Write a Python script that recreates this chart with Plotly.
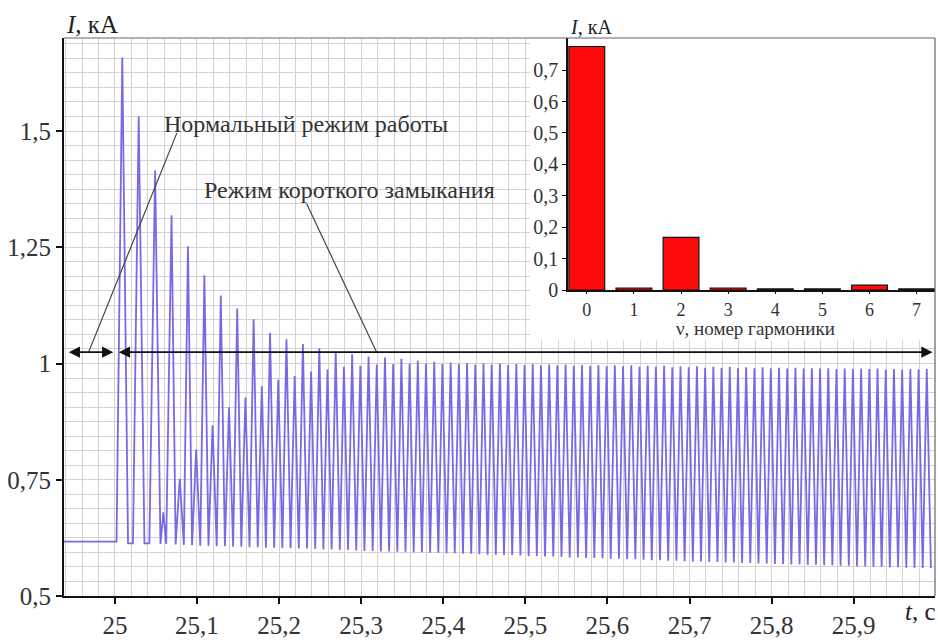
import plotly.graph_objects as go

# ---------------- data ----------------
# steady pre-fault level (normal mode)
pre_t = [24.938, 25.002]
pre_i = [0.617, 0.617]

# main (decaying) peaks of the current, kA
main_peak_t = [25.009, 25.029, 25.049, 25.069, 25.089, 25.109, 25.129, 25.149, 25.169, 25.189,
               25.209, 25.229, 25.249, 25.269, 25.289, 25.309, 25.329, 25.349, 25.369, 25.389,
               25.409, 25.429, 25.449, 25.469, 25.489, 25.509, 25.529, 25.549, 25.569, 25.589,
               25.609, 25.629, 25.649, 25.669, 25.689, 25.709, 25.729, 25.749, 25.769, 25.789,
               25.809, 25.829, 25.849, 25.869, 25.889, 25.909, 25.929, 25.949, 25.969, 25.989]
main_peak_i = [1.658, 1.531, 1.415, 1.319, 1.252, 1.190, 1.146, 1.118, 1.095, 1.066,
               1.052, 1.042, 1.033, 1.024, 1.020, 1.015, 1.013, 1.010, 1.006, 1.004,
               1.002, 1.001, 1.000, 1.000, 0.999, 0.999, 0.998, 0.998, 0.997, 0.997,
               0.996, 0.996, 0.995, 0.995, 0.994, 0.994, 0.993, 0.993, 0.992, 0.992,
               0.991, 0.991, 0.990, 0.990, 0.989, 0.989, 0.989, 0.988, 0.988, 0.988]

# secondary (growing) peaks
sec_peak_t = [25.059, 25.079, 25.099, 25.119, 25.139, 25.159, 25.179, 25.199, 25.219, 25.239,
              25.259, 25.279, 25.299, 25.319, 25.339, 25.359, 25.379, 25.399, 25.419, 25.439,
              25.459, 25.479, 25.499, 25.519, 25.539, 25.559, 25.579, 25.599, 25.619, 25.639,
              25.659, 25.679, 25.699, 25.719, 25.739, 25.759, 25.779, 25.799, 25.819, 25.839,
              25.859, 25.879, 25.899, 25.919, 25.939, 25.959, 25.979]
sec_peak_i = [0.680, 0.752, 0.815, 0.867, 0.906, 0.927, 0.951, 0.965, 0.973, 0.983,
              0.987, 0.993, 0.995, 0.998, 0.999, 1.000, 1.000, 0.999, 0.999, 0.998,
              0.998, 0.997, 0.997, 0.996, 0.996, 0.995, 0.995, 0.994, 0.994, 0.993,
              0.993, 0.992, 0.992, 0.991, 0.991, 0.990, 0.990, 0.990, 0.989, 0.989,
              0.989, 0.988, 0.988, 0.988, 0.987, 0.987, 0.987]

# troughs between the peaks
trough_t = [25.016, 25.022, 25.036, 25.042, 25.0555, 25.0625, 25.074, 25.084, 25.094,
            25.104, 25.114, 25.124, 25.134, 25.144, 25.154, 25.164, 25.174, 25.184, 25.194,
            25.204, 25.214, 25.224, 25.234, 25.244, 25.254, 25.264, 25.274, 25.284, 25.294,
            25.304, 25.314, 25.324, 25.334, 25.344, 25.354, 25.364, 25.374, 25.384, 25.394,
            25.404, 25.414, 25.424, 25.434, 25.444, 25.454, 25.464, 25.474, 25.484, 25.494,
            25.504, 25.514, 25.524, 25.534, 25.544, 25.554, 25.564, 25.574, 25.584, 25.594,
            25.604, 25.614, 25.624, 25.634, 25.644, 25.654, 25.664, 25.674, 25.684, 25.694,
            25.704, 25.714, 25.724, 25.734, 25.744, 25.754, 25.764, 25.774, 25.784, 25.794,
            25.804, 25.814, 25.824, 25.834, 25.844, 25.854, 25.864, 25.874, 25.884, 25.894,
            25.904, 25.914, 25.924, 25.934, 25.944, 25.954, 25.964, 25.974, 25.984, 25.994]
trough_i = [0.613, 0.613, 0.613, 0.613, 0.612, 0.612, 0.611, 0.610, 0.609,
            0.608, 0.608, 0.607, 0.607, 0.606, 0.606, 0.605, 0.605, 0.604, 0.604,
            0.603, 0.603, 0.602, 0.602, 0.601, 0.600, 0.600, 0.599, 0.599, 0.598,
            0.597, 0.597, 0.596, 0.596, 0.595, 0.595, 0.594, 0.594, 0.593, 0.593,
            0.592, 0.592, 0.591, 0.591, 0.590, 0.589, 0.589, 0.588, 0.588, 0.587,
            0.586, 0.586, 0.585, 0.585, 0.584, 0.583, 0.583, 0.582, 0.582, 0.581,
            0.580, 0.580, 0.579, 0.579, 0.578, 0.577, 0.577, 0.576, 0.576, 0.575,
            0.574, 0.574, 0.573, 0.573, 0.572, 0.572, 0.571, 0.571, 0.570, 0.570,
            0.569, 0.569, 0.568, 0.568, 0.567, 0.567, 0.566, 0.566, 0.565, 0.565,
            0.564, 0.564, 0.563, 0.563, 0.562, 0.562, 0.561, 0.561, 0.560, 0.560]

# harmonic spectrum (inset)
harm_n = [0, 1, 2, 3, 4, 5, 6, 7]
harm_i = [0.775, 0.007, 0.168, 0.007, 0.004, 0.004, 0.016, 0.004]

x_ticks = [25, 25.1, 25.2, 25.3, 25.4, 25.5, 25.6, 25.7, 25.8, 25.9]
x_ticktext = ["25", "25,1", "25,2", "25,3", "25,4", "25,5", "25,6", "25,7", "25,8", "25,9"]
y_ticks = [0.5, 0.75, 1, 1.25, 1.5]
y_ticktext = ["0,5", "0,75", "1", "1,25", "1,5"]
h_yticks = [0, 0.1, 0.2, 0.3, 0.4, 0.5, 0.6, 0.7]
h_yticktext = ["0", "0,1", "0,2", "0,3", "0,4", "0,5", "0,6", "0,7"]

# ---------------- build ----------------
pts = sorted(zip(pre_t + main_peak_t + sec_peak_t + trough_t,
                 pre_i + main_peak_i + sec_peak_i + trough_i))
wave_t = [p[0] for p in pts]
wave_i = [p[1] for p in pts]

FONT = "Liberation Serif"
GRID = "#d2d2d2"

fig = go.Figure()
fig.add_trace(go.Scatter(x=wave_t, y=wave_i, mode="lines",
                         line=dict(color="rgb(118,106,230)", width=1.8),
                         showlegend=False, hoverinfo="skip"))
fig.add_trace(go.Bar(x=harm_n, y=harm_i, xaxis="x2", yaxis="y2", width=0.76,
                     marker=dict(color="#ff0a0a", line=dict(color="#111", width=1.2)),
                     showlegend=False, hoverinfo="skip"))

fig.update_layout(
    width=938, height=642,
    margin=dict(l=64, r=3, t=38, b=37),
    paper_bgcolor="white", plot_bgcolor="white",
    font=dict(family=FONT, color="#222"),
    xaxis=dict(domain=[0, 1], range=[24.938, 25.999], tickvals=x_ticks, ticktext=x_ticktext,
               tickfont=dict(size=25, family=FONT, color="#333"),
               showline=True, linecolor="#111", linewidth=2,
               ticks="outside", ticklen=6, tickwidth=2, tickcolor="#111",
               showgrid=True, gridcolor=GRID, gridwidth=1, zeroline=False,
               minor=dict(tickmode="linear", tick0=25, dtick=0.02, showgrid=True,
                          gridcolor=GRID, gridwidth=1, ticks="")),
    yaxis=dict(domain=[0, 1], range=[0.5, 1.7], tickvals=y_ticks, ticktext=y_ticktext,
               tickfont=dict(size=25, family=FONT, color="#333"),
               showline=True, linecolor="#111", linewidth=2,
               ticks="outside", ticklen=6, tickwidth=2, tickcolor="#111",
               showgrid=True, gridcolor=GRID, gridwidth=1, zeroline=False,
               minor=dict(tickmode="linear", tick0=0.5, dtick=0.03125, showgrid=True,
                          gridcolor=GRID, gridwidth=1, ticks="")),
    xaxis2=dict(domain=[0.5786, 1], anchor="y2", range=[-0.4, 7.39], tickvals=harm_n,
                tickfont=dict(size=18, family=FONT, color="#333"),
                showline=True, linecolor="#111", linewidth=1.5,
                ticks="outside", ticklen=2, tickcolor="#111",
                showgrid=False, zeroline=False),
    yaxis2=dict(domain=[0.548, 1], anchor="x2", range=[0, 0.802], tickvals=h_yticks,
                ticktext=h_yticktext, tickfont=dict(size=20, family=FONT, color="#333"),
                showline=True, linecolor="#111", linewidth=1.5,
                ticks="outside", ticklen=4, tickcolor="#111",
                showgrid=False, zeroline=False),
)

# white patch behind the inset (covers the main grid)
fig.add_shape(type="rect", xref="x", yref="y", x0=25.5055, x1=25.999, y0=1.05, y1=1.7,
              fillcolor="white", line=dict(width=0), layer="between")
# top / right frame of the main plot
fig.add_shape(type="line", xref="paper", yref="paper", x0=0, x1=1, y0=1, y1=1,
              line=dict(color="#666", width=1.2))
fig.add_shape(type="line", xref="paper", yref="paper", x0=1, x1=1, y0=0, y1=1,
              line=dict(color="#666", width=1.2))

# leader lines
fig.add_shape(type="line", xref="x", yref="y", x0=25.0755, y0=1.496, x1=24.968, y1=1.0244,
              line=dict(color="#444", width=1.2))
fig.add_shape(type="line", xref="x", yref="y", x0=25.2335, y0=1.344, x1=25.3188, y1=1.0244,
              line=dict(color="#444", width=1.2))

# double arrows
for a, b in [(24.942, 24.998), (25.003, 25.996)]:
    fig.add_annotation(x=b, y=1.0244, ax=a, ay=1.0244, xref="x", yref="y", axref="x", ayref="y",
                       text="", showarrow=True, arrowhead=2, arrowside="end+start",
                       arrowsize=1.4, arrowwidth=1.6, arrowcolor="#111")

# texts
fig.add_annotation(text="Нормальный режим работы", x=0.1126, y=0.845, xref="paper", yref="paper",
                   xanchor="left", yanchor="middle", showarrow=False,
                   font=dict(size=24, family=FONT, color="#333"))
fig.add_annotation(text="Режим короткого замыкания", x=0.1585, y=0.727, xref="paper", yref="paper",
                   xanchor="left", yanchor="middle", showarrow=False,
                   font=dict(size=24, family=FONT, color="#333"))
fig.add_annotation(text="<i>I</i>, кА", x=0.032, y=1.0247, xref="paper", yref="paper",
                   xanchor="center", yanchor="middle", showarrow=False,
                   font=dict(size=25, family=FONT, color="#222"))
fig.add_annotation(text="<i>t</i>, с", x=1.0034, y=-0.027, xref="paper", yref="paper",
                   xanchor="right", yanchor="middle", showarrow=False,
                   font=dict(size=25, family=FONT, color="#222"))
fig.add_annotation(text="<i>I</i>, кА", x=0.605, y=1.019, xref="paper", yref="paper",
                   xanchor="center", yanchor="middle", showarrow=False,
                   font=dict(size=20, family=FONT, color="#222"))
fig.add_annotation(text="ν, номер гармоники", x=0.7934, y=0.4785, xref="paper", yref="paper",
                   xanchor="center", yanchor="middle", showarrow=False,
                   font=dict(size=19, family=FONT, color="#333"))

fig.write_html("out.html")
